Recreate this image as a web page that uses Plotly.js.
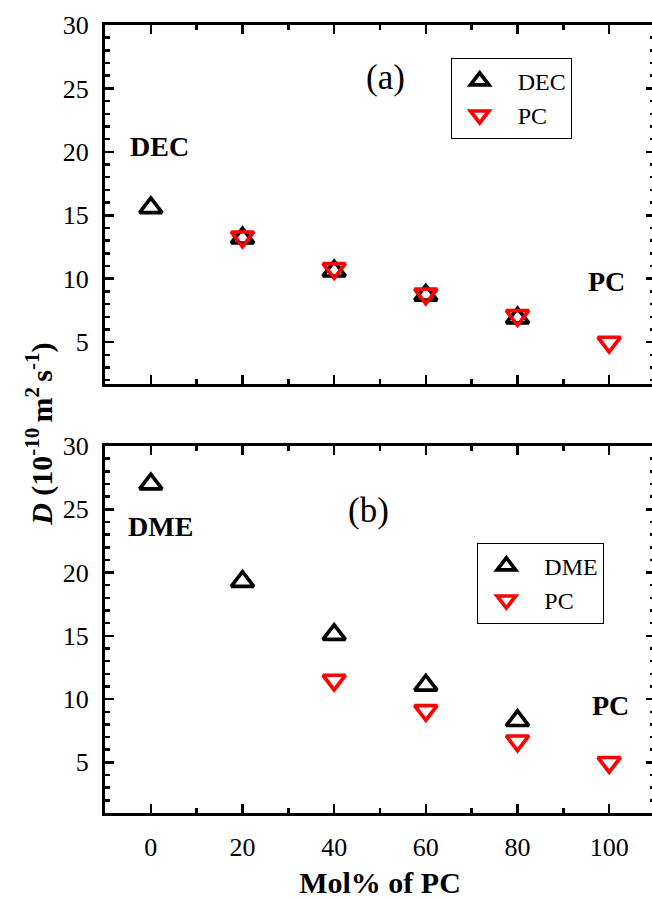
<!DOCTYPE html>
<html><head><meta charset="utf-8">
<script src="https://cdn.plot.ly/plotly-3.0.1.min.js"></script>
<style>html,body{margin:0;padding:0;overflow:hidden;background:#fff}</style>
</head><body><div id="chart" style="width:660px;height:899px"></div>
<script>
// Panel (a): DEC + PC
const decX = [0, 20, 40, 60, 80];
const decD = [15.6, 13.2, 10.6, 8.7, 6.9];
const pcAX = [20, 40, 60, 80, 100];
const pcAD = [13.3, 10.8, 8.8, 7.1, 5.0];
// Panel (b): DME + PC
const dmeX = [0, 20, 40, 60, 80];
const dmeD = [27.0, 19.3, 15.1, 11.1, 8.3];
const pcBX = [40, 60, 80, 100];
const pcBD = [11.5, 9.1, 6.7, 5.0];
const xTickVals = [0, 20, 40, 60, 80, 100];
const yTickVals = [5, 10, 15, 20, 25, 30];

const serif = 'Liberation Serif, Times New Roman, serif';
const NB = '\u00a0\u00a0\u00a0';

function up(x, y, name, xa, ya, leg) {
  return {x: x, y: y, name: NB + name, type: 'scatter', mode: 'markers', xaxis: xa, yaxis: ya, legend: leg,
    marker: {symbol: 'triangle-up-open', size: 19.5, color: '#000', line: {width: 3.7, color: '#000'}}};
}
function down(x, y, name, xa, ya, leg) {
  return {x: x, y: y, name: NB + name, type: 'scatter', mode: 'markers', xaxis: xa, yaxis: ya, legend: leg,
    marker: {symbol: 'triangle-down-open', size: 19.5, color: '#ff0000', line: {width: 3.7, color: '#ff0000'}}};
}

const data = [
  up(decX, decD, 'DEC', 'x2', 'y2', 'legend'),
  down(pcAX, pcAD, 'PC', 'x2', 'y2', 'legend'),
  up(dmeX, dmeD, 'DME', 'x', 'y', 'legend2'),
  down(pcBX, pcBD, 'PC', 'x', 'y', 'legend2')
];

const axCommon = {
  showline: true, linecolor: '#000', linewidth: 3, mirror: 'ticks',
  ticks: 'inside', ticklen: 9, tickwidth: 2.5, tickcolor: '#000',
  showgrid: false, zeroline: false,
  tickfont: {family: serif, size: 26, color: '#000'}
};

const xBase = Object.assign({}, axCommon, {
  range: [-10, 110], tickmode: 'array', tickvals: xTickVals,
  minor: {dtick: 10, ticks: 'inside', ticklen: 5, tickwidth: 2.5, tickcolor: '#000', showgrid: false},
  ticklabelstandoff: 9
});
const yBase = Object.assign({}, axCommon, {
  tickmode: 'array', tickvals: yTickVals,
  minor: {dtick: 1, tick0: 0, ticks: 'inside', ticklen: 5, tickwidth: 2.5, tickcolor: '#000', showgrid: false},
  ticklabelstandoff: 8
});

const legendCommon = {
  xanchor: 'left', yanchor: 'top', bordercolor: '#000', borderwidth: 1, bgcolor: '#fff',
  font: {family: serif, size: 24, color: '#000'}, indentation: 8
};

const boldAnn = (x, y, xr, yr, t, size) => ({x: x, y: y, xref: xr, yref: yr, text: t, showarrow: false,
  font: {family: serif, size: size, color: '#000'}, xanchor: 'center', yanchor: 'middle'});

const layout = {
  width: 660, height: 899,
  margin: {l: 105, r: 5, t: 25, b: 86},
  paper_bgcolor: '#fff', plot_bgcolor: '#fff',
  showlegend: true,
  xaxis: Object.assign({}, xBase, {domain: [0, 1], anchor: 'y',
    title: {text: '<b>Mol% of PC</b>', font: {family: serif, size: 30, color: '#000'}, standoff: 12}}),
  yaxis: Object.assign({}, yBase, {domain: [0, 0.4657], range: [1, 30], anchor: 'x'}),
  xaxis2: Object.assign({}, xBase, {domain: [0, 1], anchor: 'y2', matches: 'x', showticklabels: false}),
  yaxis2: Object.assign({}, yBase, {domain: [0.5444, 1], range: [1.7, 30], anchor: 'x2'}),
  legend: Object.assign({}, legendCommon, {x: 0.6285, y: 0.9585}),
  legend2: Object.assign({}, legendCommon, {x: 0.677, y: 0.343}),
  annotations: [
    boldAnn(1.8, 20.4, 'x2', 'y2', '<b>DEC</b>', 28),
    boldAnn(99.5, 9.8, 'x2', 'y2', '<b>PC</b>', 28),
    boldAnn(51.3, 25.85, 'x2', 'y2', '(a)', 35),
    boldAnn(2.2, 23.64, 'x', 'y', '<b>DME</b>', 28),
    boldAnn(100.2, 9.46, 'x', 'y', '<b>PC</b>', 28),
    boldAnn(47.4, 24.94, 'x', 'y', '(b)', 35),
    {x: -0.118, y: 0.48, xref: 'paper', yref: 'paper', textangle: -90, showarrow: false,
     text: '<b><i>D</i> (10<sup>-10 </sup>m<sup>2 </sup>s<sup>-1</sup>)</b>',
     font: {family: serif, size: 30, color: '#000'}, xanchor: 'center', yanchor: 'middle'}
  ]
};

Plotly.newPlot('chart', data, layout, {displayModeBar: false, staticPlot: true});
</script></body></html>
